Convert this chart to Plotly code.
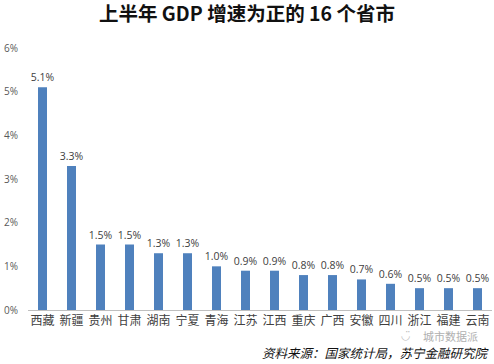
import plotly.graph_objects as go

provinces = ["西藏", "新疆", "贵州", "甘肃", "湖南", "宁夏", "青海", "江苏",
             "江西", "重庆", "广西", "安徽", "四川", "浙江", "福建", "云南"]
growth = [5.1, 3.3, 1.5, 1.5, 1.3, 1.3, 1.0, 0.9, 0.9, 0.8, 0.8, 0.7, 0.6, 0.5, 0.5, 0.5]
y_ticks = [0, 1, 2, 3, 4, 5, 6]
y_tick_labels = ["0%", "1%", "2%", "3%", "4%", "5%", "6%"]

FONT = "Noto Sans CJK SC"

fig = go.Figure()
fig.add_trace(go.Bar(
    x=provinces, y=growth,
    marker=dict(color="#4F81BD", line=dict(width=0)),
    text=[f"{v:.1f}%" for v in growth],
    textposition="outside",
    constraintext="none",
    textfont=dict(family="Open Sans, " + FONT, size=10.5, color="#404040"),
    cliponaxis=False,
    width=0.31,
    hoverinfo="skip",
))

fig.update_layout(
    width=494, height=364,
    margin=dict(l=28, r=2, t=48, b=54),
    paper_bgcolor="white", plot_bgcolor="white",
    showlegend=False,
    title=dict(text="<b>上半年 GDP 增速为正的 16 个省市</b>",
               x=0.5, xanchor="center", y=0.96, yanchor="middle",
               font=dict(family=FONT, size=19.5, color="#111111")),
    xaxis=dict(showgrid=False, showline=True, linecolor="#BFBFBF", linewidth=1,
               ticks="", tickfont=dict(family=FONT, size=12, color="#404040"),
               fixedrange=True),
    yaxis=dict(range=[0, 6], tickvals=y_ticks, ticktext=y_tick_labels,
               showgrid=False, zeroline=False, showline=False, ticks="",
               ticklabelstandoff=9, fixedrange=True,
               tickfont=dict(family="Open Sans, " + FONT, size=10, color="#595959")),
)

fig.add_annotation(
    text="<i>资料来源：国家统计局，苏宁金融研究院</i>",
    xref="paper", yref="paper", x=1.0, y=-0.163, xanchor="right", yanchor="middle",
    showarrow=False, font=dict(family=FONT, size=12.5, color="#111111"),
)
fig.add_annotation(
    text="城市数据派",
    xref="paper", yref="paper", x=0.974, y=-0.099, xanchor="right", yanchor="middle",
    showarrow=False, font=dict(family=FONT, size=11, color="#B0B0B0"),
)
fig.add_annotation(
    text="◡̈",
    xref="paper", yref="paper", x=0.83, y=-0.099, xanchor="right", yanchor="middle",
    showarrow=False, font=dict(family="DejaVu Sans", size=11, color="#C0C0C0"),
)

fig.write_html(
    "out.html",
    config={"displayModeBar": False},
    post_script="document.body.style.margin='0';document.body.style.overflow='hidden';",
)
